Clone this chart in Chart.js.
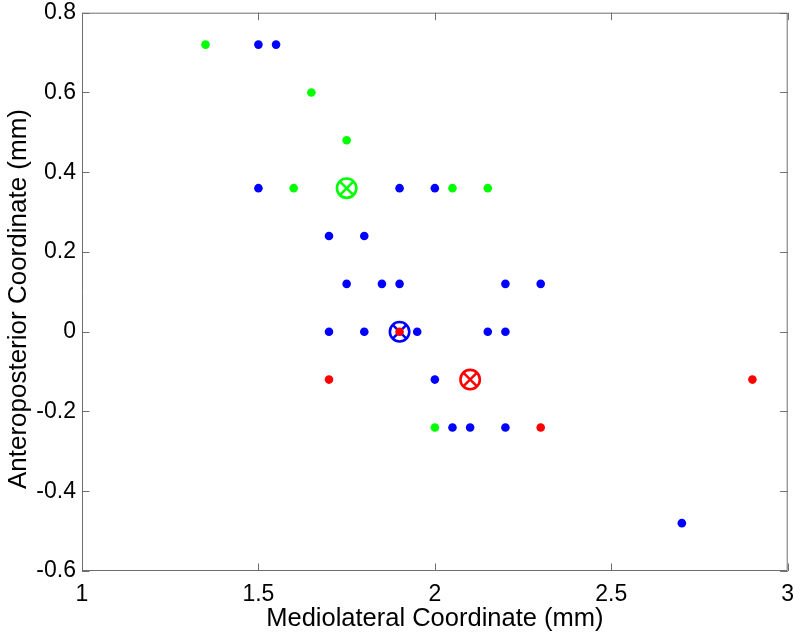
<!DOCTYPE html>
<html>
<head>
<meta charset="utf-8">
<script src="https://cdn.jsdelivr.net/npm/chart.js@4"></script>
<style>
  html, body { margin: 0; padding: 0; background: #fff; }
  #wrap { width: 800px; height: 634px; }
</style>
</head>
<body>
<div id="wrap"><canvas id="chart"></canvas></div>
<script>
// recording sites, grouped by colour
const blueX = [1.5, 1.55, 1.5, 1.9, 2.0, 1.7, 1.8, 1.75, 1.85, 1.9, 2.2, 2.3,
               1.7, 1.8, 1.95, 2.15, 2.2, 2.0, 2.05, 2.1, 2.2, 2.7];
const blueY = [0.72, 0.72, 0.36, 0.36, 0.36, 0.24, 0.24, 0.12, 0.12, 0.12, 0.12, 0.12,
               0, 0, 0, 0, 0, -0.12, -0.24, -0.24, -0.24, -0.48];
const greenX = [1.35, 1.65, 1.75, 1.6, 2.05, 2.15, 2.0];
const greenY = [0.72, 0.6, 0.48, 0.36, 0.36, 0.36, -0.24];
const redX = [1.9, 1.7, 2.3, 2.9];
const redY = [0, -0.12, -0.24, -0.12];

// group centres (circle + x marker)
const centerX = [1.75, 1.9, 2.1];
const centerY = [0.36, 0, -0.12];
const centerColors = ["#00ff00", "#0000ff", "#ff0000"];

const xTicks = [1, 1.5, 2, 2.5, 3];
const yTicks = [-0.6, -0.4, -0.2, 0, 0.2, 0.4, 0.6, 0.8];

function pts(xs, ys) {
    return xs.map((x, i) => ({x: x, y: ys[i]}));
}

function dots(xs, ys, color) {
    return {
        data: pts(xs, ys),
        pointStyle: "circle",
        pointRadius: 4.3,
        backgroundColor: color,
        borderColor: color,
        borderWidth: 0
    };
}

const datasets = [dots(redX, redY, "#ff0000")];
centerX.forEach((x, i) => {
    datasets.push({
        data: [{x: x, y: centerY[i]}],
        pointStyle: "crossRot",
        pointRadius: 9.7,
        borderColor: centerColors[i],
        borderWidth: 2.5,
        backgroundColor: "rgba(0,0,0,0)"
    });
    datasets.push({
        data: [{x: x, y: centerY[i]}],
        pointStyle: "circle",
        pointRadius: 9.7,
        borderColor: centerColors[i],
        borderWidth: 2.6,
        backgroundColor: "rgba(0,0,0,0)"
    });
});
datasets.push(dots(greenX, greenY, "#00ff00"));
datasets.push(dots(blueX, blueY, "#0000ff"));

// matlab style box with inward ticks
const boxPlugin = {
    id: "box",
    beforeDatasetsDraw(chart) {
        const ctx = chart.ctx;
        const a = chart.chartArea;
        const sx = chart.scales.x, sy = chart.scales.y;
        const len = 7.5;
        ctx.save();
        ctx.strokeStyle = "#6e6e6e";
        ctx.lineWidth = 1;
        ctx.beginPath();
        ctx.rect(a.left + 0.5, a.top + 0.5, a.right - a.left - 1, a.bottom - a.top - 1);
        xTicks.forEach(v => {
            const px = Math.round(sx.getPixelForValue(v)) + 0.5;
            ctx.moveTo(px, a.bottom);
            ctx.lineTo(px, a.bottom - len);
            ctx.moveTo(px, a.top);
            ctx.lineTo(px, a.top + len);
        });
        yTicks.forEach(v => {
            const py = Math.round(sy.getPixelForValue(v)) + 0.5;
            ctx.moveTo(a.left, py);
            ctx.lineTo(a.left + len, py);
            ctx.moveTo(a.right, py);
            ctx.lineTo(a.right - len, py);
        });
        ctx.stroke();
        ctx.restore();
    }
};

const font = "'Liberation Sans', Arial, sans-serif";
const fmt = v => String(+Number(v).toFixed(2));

const chartobj = new Chart(document.getElementById("chart"), {
    type: "scatter",
    data: {datasets: datasets},
    options: {
        responsive: true,
        maintainAspectRatio: false,
        animation: false,
        layout: {padding: {top: 12.7, right: 8, bottom: 0, left: 0}},
        plugins: {
            legend: {display: false},
            tooltip: {enabled: false}
        },
        scales: {
            x: {
                type: "linear",
                min: 1,
                max: 3,
                afterFit: s => {
                    s.height = 63;
                    s.paddingLeft = 0;
                    s.paddingRight = 0;
                },
                afterBuildTicks: s => { s.ticks = xTicks.map(v => ({value: v})); },
                grid: {display: false, drawTicks: false},
                border: {display: false},
                ticks: {
                    color: "#000",
                    padding: 12,
                    maxRotation: 0,
                    callback: fmt,
                    font: {family: font, size: 23, lineHeight: 1}
                },
                title: {
                    display: true,
                    text: "Mediolateral Coordinate (mm)",
                    color: "#000",
                    padding: {top: 0, bottom: 0},
                    font: {family: font, size: 25.5}
                }
            },
            y: {
                type: "linear",
                min: -0.6,
                max: 0.8,
                afterFit: s => {
                    s.width = 82;
                    s.paddingTop = 0;
                    s.paddingBottom = 0;
                },
                afterBuildTicks: s => { s.ticks = yTicks.map(v => ({value: v})); },
                grid: {display: false, drawTicks: false},
                border: {display: false},
                ticks: {
                    color: "#000",
                    padding: 6,
                    callback: fmt,
                    font: {family: font, size: 23, lineHeight: 1}
                },
                title: {
                    display: true,
                    text: "Anteroposterior Coordinate (mm)  ",
                    color: "#000",
                    padding: {top: 3, bottom: 0},
                    font: {family: font, size: 26}
                }
            }
        }
    },
    plugins: [boxPlugin]
});
</script>
</body>
</html>
